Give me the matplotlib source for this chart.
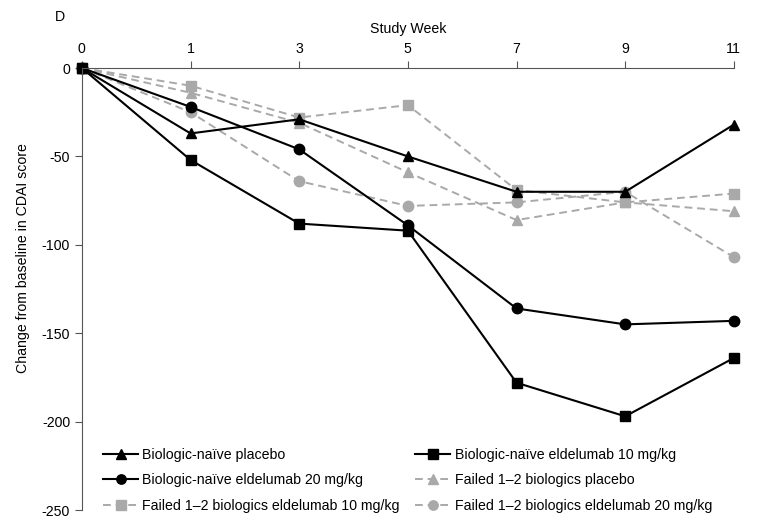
import matplotlib
matplotlib.use("Agg")
import matplotlib.pyplot as plt

plt.rcParams['font.family'] = ['Liberation Sans', 'DejaVu Sans']

weeks = ["0", "1", "3", "5", "7", "9", "11"]
naive_placebo = [0, -37, -29, -50, -70, -70, -32]
naive_10 = [0, -52, -88, -92, -178, -197, -164]
naive_20 = [0, -22, -46, -89, -136, -145, -143]
failed_placebo = [0, -14, -31, -59, -86, -76, -81]
failed_10 = [0, -10, -28, -21, -69, -76, -71]
failed_20 = [0, -25, -64, -78, -76, -70, -107]

labels = ["Biologic-naïve placebo", "Biologic-naïve eldelumab 10 mg/kg",
          "Biologic-naïve eldelumab 20 mg/kg", "Failed 1–2 biologics placebo",
          "Failed 1–2 biologics eldelumab 10 mg/kg", "Failed 1–2 biologics eldelumab 20 mg/kg"]

FS = 10.2

fig = plt.figure(figsize=(7.65, 5.18), dpi=100)
ax = fig.add_axes([0.107, 0.0154, 0.8523, 0.8533])

x = list(range(len(weeks)))
gray = "#a9a9a9"
series = [
    (naive_placebo, "k", "-", "^"),
    (naive_10, "k", "-", "s"),
    (naive_20, "k", "-", "o"),
    (failed_placebo, gray, "--", "^"),
    (failed_10, gray, "--", "s"),
    (failed_20, gray, "--", "o"),
]
order = [3, 4, 5, 0, 1, 2]
handles = [None] * 6
for i in order:
    vals, c, ls, m = series[i]
    if ls == "--":
        h, = ax.plot(x, vals, color=c, linestyle=ls, dashes=(4, 2.5), marker=m,
                     markersize=7.5, linewidth=1.4, label=labels[i], clip_on=False)
    else:
        h, = ax.plot(x, vals, color=c, linestyle=ls, marker=m, markersize=7.5,
                     linewidth=1.5, label=labels[i], clip_on=False)
    handles[i] = h

ax.set_xlim(0, 6)
ax.set_ylim(-250, 0)
ax.set_yticks([0, -50, -100, -150, -200, -250])
ax.set_yticklabels(["0", "-50", "-100", "-150", "-200", "-250"])
ax.xaxis.tick_top()
ax.xaxis.set_label_position("top")
ax.set_xticks(x)
ax.set_xticklabels(weeks)
ax.set_xlabel("Study Week", fontsize=FS, labelpad=6)
ax.tick_params(axis='both', labelsize=FS, length=5, color="#555555", width=0.8)
ax.tick_params(axis='x', pad=4)
for s in ["right", "bottom"]:
    ax.spines[s].set_visible(False)
for s in ["top", "left"]:
    ax.spines[s].set_color("#555555")
    ax.spines[s].set_linewidth(0.8)

fig.text(23 / 765, 1 - 258 / 518, "Change from baseline in CDAI score", fontsize=FS,
         rotation=90, ha="center", va="center")

leg_order = [0, 2, 4, 1, 3, 5]
ax.legend(handles=[handles[i] for i in leg_order], ncol=2, frameon=False, loc="lower left",
          bbox_to_anchor=(0.0126, -0.035), fontsize=FS, handlelength=2.5,
          handletextpad=0.3, columnspacing=1.05, labelspacing=0.8, markerscale=0.9)

fig.text(0.072, 0.968, "D", fontsize=FS, va="center")

fig.savefig("out.png", dpi=100)
